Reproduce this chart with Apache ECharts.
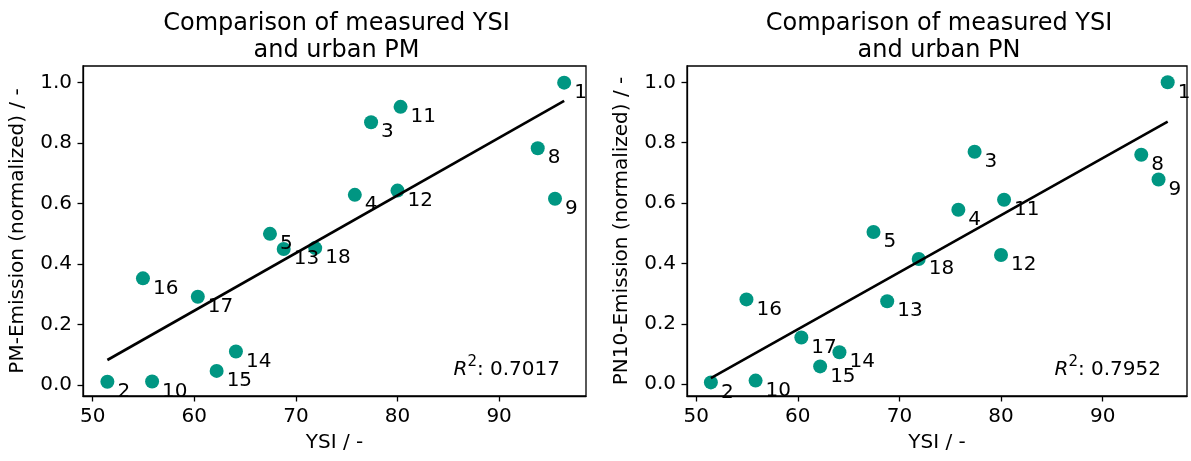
<!DOCTYPE html>
<html>
<head>
<meta charset="utf-8">
<script src="https://cdn.jsdelivr.net/npm/echarts@6/dist/echarts.min.js"></script>
<style>
  html, body { margin: 0; padding: 0; background: #fff; }
  #chart { width: 1191px; height: 461px; }
</style>
</head>
<body>
<div id="chart"></div>
<script>
// fuel numbers and measured values
const fuelIds = ['1', '2', '3', '4', '5', '8', '9', '10', '11', '12', '13', '14', '15', '16', '17', '18'];
const ysi = [96.4, 51.45, 77.4, 75.8, 67.45, 93.8, 95.5, 55.85, 80.3, 80.0, 68.8, 64.1, 62.2, 54.95, 60.35, 71.9];
const pmEmission = [1.0, 0.011, 0.869, 0.629, 0.50, 0.783, 0.616, 0.012, 0.92, 0.643, 0.45, 0.111, 0.047, 0.353, 0.292, 0.453];
const pnEmission = [1.0, 0.006, 0.77, 0.578, 0.504, 0.76, 0.678, 0.012, 0.611, 0.428, 0.275, 0.106, 0.059, 0.281, 0.155, 0.415];

// regression line ends
const fitX = [51.45, 96.4];
const pmFitY = [0.083, 0.94];
const pnFitY = [0.02, 0.87];
const r2 = [0.7017, 0.7952];

const xTicks = [50, 60, 70, 80, 90];
const yTicks = [0, 0.2, 0.4, 0.6, 0.8, 1.0];

const titles = ['Comparison of measured YSI\nand urban PM', 'Comparison of measured YSI\nand urban PN'];
const yNames = ['PM-Emission (normalized) / -', 'PN10-Emission (normalized) / -'];

const FONT = 'DejaVu Sans';
const FS = 20;
const GREEN = '#009682';

const chart = echarts.init(document.getElementById('chart'));

const grids = [
  { left: 83, top: 66, width: 503, height: 330 },
  { left: 687, top: 66, width: 500, height: 330 }
];
const xRanges = [[49.05, 98.55], [49.1, 98.3]];
const yRanges = [[-0.036, 1.055], [-0.039, 1.054]];

function xAxis(i) {
  return {
    type: 'value', gridIndex: i, min: xRanges[i][0], max: xRanges[i][1],
    name: 'YSI / -', nameLocation: 'middle', nameGap: 37,
    nameTextStyle: { fontFamily: FONT, fontSize: FS, color: '#000' },
    axisLine: { show: true, onZero: false, lineStyle: { color: '#000', width: 1.3 } },
    axisTick: { show: true, customValues: xTicks, length: 5.5, lineStyle: { color: '#000', width: 1.3 } },
    axisLabel: { customValues: xTicks, margin: 11, fontFamily: FONT, fontSize: FS, color: '#000' },
    splitLine: { show: false }
  };
}

function yAxis(i) {
  return {
    type: 'value', gridIndex: i, min: yRanges[i][0], max: yRanges[i][1],
    name: yNames[i], nameLocation: 'middle', nameGap: 55,
    nameTextStyle: { fontFamily: FONT, fontSize: FS, color: '#000' },
    axisLine: { show: true, onZero: false, lineStyle: { color: '#000', width: 1.3 } },
    axisTick: { show: true, customValues: yTicks, length: 5.5, lineStyle: { color: '#000', width: 1.3 } },
    axisLabel: { customValues: yTicks, margin: 11, fontFamily: FONT, fontSize: FS, color: '#000',
      formatter: v => v.toFixed(1) },
    splitLine: { show: false }
  };
}

function scatter(i, values) {
  return {
    type: 'scatter', xAxisIndex: i, yAxisIndex: i,
    symbolSize: 14,
    itemStyle: { color: GREEN, opacity: 1 },
    data: ysi.map((x, k) => ({ value: [x, values[k]], name: fuelIds[k] })),
    label: {
      show: true, position: [17, 17], align: 'left', verticalAlign: 'middle',
      formatter: p => p.name,
      fontFamily: FONT, fontSize: FS, color: '#000'
    },
    z: 2
  };
}

function fitLine(i, ys) {
  return {
    type: 'line', xAxisIndex: i, yAxisIndex: i,
    data: fitX.map((x, k) => [x, ys[k]]),
    showSymbol: false, symbol: 'none',
    lineStyle: { color: '#000', width: 2.6 },
    z: 3, silent: true
  };
}

function r2Text(i) {
  const g = grids[i];
  return {
    type: 'text',
    right: 1191 - (g.left + g.width) + 26,
    bottom: 461 - (g.top + g.height) + 16,
    style: {
      text: '{r|R}{s|2}{t|: ' + r2[i].toFixed(4) + '}',
      rich: {
        r: { fontFamily: FONT, fontStyle: 'italic', fontSize: FS, fill: '#000', color: '#000', verticalAlign: 'bottom', lineHeight: 25 },
        s: { fontFamily: FONT, fontSize: 15, fill: '#000', color: '#000', verticalAlign: 'top', lineHeight: 25 },
        t: { fontFamily: FONT, fontSize: FS, fill: '#000', color: '#000', verticalAlign: 'bottom', lineHeight: 25 }
      }
    }
  };
}

chart.setOption({
  animation: false,
  title: titles.map((t, i) => ({
    text: t,
    left: grids[i].left + grids[i].width / 2 - 3,
    top: 5,
    textAlign: 'center',
    textStyle: { fontFamily: FONT, fontSize: 24, fontWeight: 'normal', color: '#000', lineHeight: 27 }
  })),
  grid: grids.map(g => Object.assign({ show: true, borderColor: '#000', borderWidth: 1.3, backgroundColor: 'transparent' }, g)),
  xAxis: [xAxis(0), xAxis(1)],
  yAxis: [yAxis(0), yAxis(1)],
  series: [
    scatter(0, pmEmission), fitLine(0, pmFitY),
    scatter(1, pnEmission), fitLine(1, pnFitY)
  ],
  graphic: [r2Text(0), r2Text(1)]
});
</script>
</body>
</html>
